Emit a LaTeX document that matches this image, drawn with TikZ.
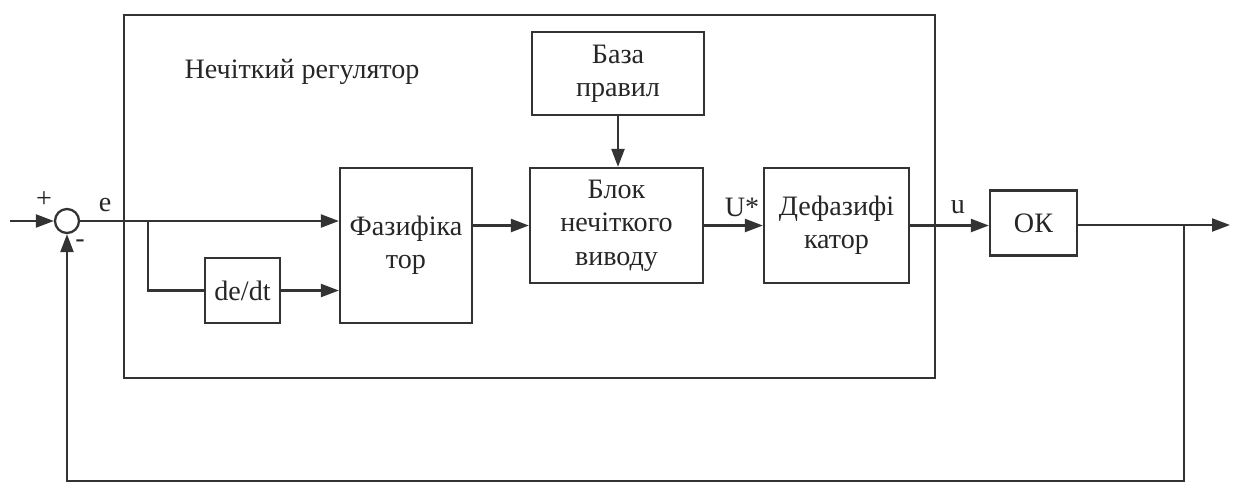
\documentclass[tikz,border=0pt]{standalone}
\usepackage{fontspec}
\setmainfont{Liberation Serif}
\usetikzlibrary{calc,arrows.meta}

\begin{document}
\begin{tikzpicture}[
  x=0.02cm, y=-0.02cm,
  line width=1.3pt,
  every node/.style={text=black!85, font=\fontsize{16}{19}\selectfont},
  block/.style={draw=black!80, rectangle, align=center, inner sep=0pt},
  sumnode/.style={draw=black!80, circle, minimum size=0.48cm, inner sep=0pt},
  sig/.style={draw=black!80, -{Triangle[length=0.36cm,width=0.26cm]}},
  wire/.style={draw=black!80}
]
\useasboundingbox (0,0) rectangle (1241,484);
\draw[wire] (124,15) rectangle (935,378);
\node at (302,72) {Нечіткий регулятор};

\node[sumnode] (sum) at (67,221) {};
\node[block, minimum width=2.64cm, minimum height=3.1cm] (fuz) at (406,245.5) {Фазифіка\\тор};
\node[block, minimum width=1.5cm, minimum height=1.3cm] (ddt) at (242.5,290.5) {de/dt};
\node[block, minimum width=3.46cm, minimum height=2.3cm] (inf) at (616.5,225.5) {Блок\\нечіткого\\виводу};
\node[block, minimum width=3.44cm, minimum height=1.66cm] (base) at (618,73.5) {База\\правил};
\node[block, minimum width=2.9cm, minimum height=2.3cm] (defuz) at (836.5,225.5) {Дефазифі\\катор};
\node[block, minimum width=1.74cm, minimum height=1.3cm] (ok) at (1033.5,223) {ОК};

\coordinate (in) at (10,221);
\coordinate (br) at (148,221);
\coordinate (out) at (1230,225);
\coordinate (tap) at (1184,225);
\coordinate (bot) at (1184,481);

\draw[sig] (in) -- (sum.west);
\draw[sig] (sum.east) -- (sum -| fuz.west);
\draw[wire] (br) |- (ddt.west);
\draw[sig] (ddt.east) -- (ddt -| fuz.west);
\draw[sig] (inf -| fuz.east) -- (inf.west);
\draw[sig] (base.south) -- (base.south |- inf.north);
\draw[sig] (inf.east) -- (defuz.west);
\draw[sig] (defuz.east) -- (defuz.east -| ok.west);
\draw[sig] (ok.east |- out) -- (out);
\draw[sig] (tap) -- (bot) -| (sum.south);

\node at (44,200) {+};
\node at (80,244) {-};
\node at (105,205) {e};
\node at (742,207) {U*};
\node at (958,207) {u};
\end{tikzpicture}
\end{document}
